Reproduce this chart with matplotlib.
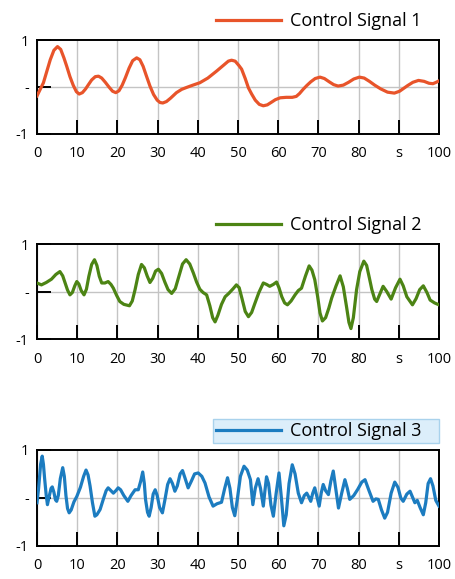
import numpy as np
import matplotlib
matplotlib.use("Agg")
import matplotlib.pyplot as plt

plt.rcParams['font.family'] = ['Open Sans', 'DejaVu Sans']

# values (time in s, signal amplitude)
t1 = [0, 0.8, 1.6, 2.5, 3.3, 4.2, 5.1, 5.9, 6.7, 7.4, 8.2, 9.0, 9.8, 10.5, 11.3,
      12.1, 12.8, 13.6, 14.5, 15.3, 16.1, 17.0, 17.9, 18.8, 19.6, 20.4, 21.2,
      22.0, 22.9, 23.8, 24.8, 25.6, 26.4, 27.2, 28.1, 29.0, 29.9, 30.6, 31.3,
      32.2, 33.2, 34.7, 36.0, 37.2, 38.8, 40.5, 42.5, 44.7, 46.5, 47.6, 48.4,
      49.3, 50.2, 50.9, 51.8, 52.6, 53.4, 54.3, 55.3, 56.3, 57.3, 58.4, 59.3,
      60.5, 62.0, 63.5, 64.5, 65.3, 66.2, 67.1, 68.1, 69.2, 70.4, 71.5, 72.7,
      73.8, 74.9, 76.2, 77.5, 78.8, 80.2, 81.4, 82.7, 84.0, 85.5, 87.2, 88.9,
      90.2, 91.2, 92.2, 93.5, 94.9, 96.3, 97.5, 98.5, 99.3, 100]
s1 = [-0.19, -0.05, 0.09, 0.35, 0.58, 0.78, 0.86, 0.80, 0.62, 0.44, 0.22, 0.04,
      -0.10, -0.15, -0.12, -0.04, 0.05, 0.15, 0.22, 0.23, 0.19, 0.10, 0.0, -0.09,
      -0.12, -0.08, 0.04, 0.20, 0.40, 0.56, 0.62, 0.58, 0.44, 0.24, 0.02, -0.16,
      -0.28, -0.33, -0.34, -0.31, -0.24, -0.12, -0.05, -0.01, 0.04, 0.09, 0.19,
      0.34, 0.47, 0.55, 0.57, 0.55, 0.46, 0.38, 0.18, -0.02, -0.15, -0.28, -0.37,
      -0.40, -0.38, -0.32, -0.27, -0.23, -0.22, -0.22, -0.20, -0.14, -0.05, 0.03,
      0.11, 0.18, 0.21, 0.18, 0.11, 0.05, 0.02, 0.04, 0.10, 0.17, 0.21, 0.19,
      0.12, 0.04, -0.04, -0.11, -0.13, -0.09, -0.03, 0.03, 0.10, 0.14, 0.12, 0.08,
      0.07, 0.10, 0.13]

t2 = [0, 1.1, 2.3, 3.6, 4.7, 5.7, 6.4, 7.0, 7.6, 8.2, 8.8, 9.4, 9.9, 10.4, 11.0,
      11.7, 12.3, 12.9, 13.6, 14.3, 14.9, 15.5, 16.1, 16.9, 17.7, 18.4, 19.0,
      19.8, 20.6, 21.6, 23.0, 23.7, 24.4, 25.2, 26.0, 26.7, 27.4, 28.1, 28.8,
      29.5, 30.2, 31.0, 31.8, 32.6, 33.5, 34.4, 35.3, 36.2, 37.1, 38.0, 38.9,
      39.7, 40.5, 41.3, 42.2, 43.0, 43.7, 44.3, 45.0, 45.9, 46.8, 47.7, 48.8,
      49.6, 50.3, 51.0, 51.8, 52.6, 53.4, 54.2, 55.2, 56.3, 57.1, 57.9, 58.8,
      59.6, 60.2, 60.9, 61.6, 62.3, 63.2, 64.2, 65.0, 65.8, 66.8, 67.7, 68.4,
      69.1, 69.8, 70.4, 71.0, 71.8, 72.6, 73.3, 74.4, 75.4, 76.2, 77.0, 77.6,
      78.1, 78.7, 79.5, 80.3, 81.3, 82.0, 82.7, 83.3, 84.0, 84.5, 85.3, 86.1,
      87.0, 88.1, 89.2, 90.3, 91.1, 92.0, 93.4, 94.3, 95.2, 96.1, 97.0, 97.8,
      98.9, 100]
s2 = [0.18, 0.14, 0.19, 0.26, 0.36, 0.42, 0.33, 0.18, 0.03, -0.07, -0.02, 0.12,
      0.21, 0.16, 0.02, -0.07, 0.05, 0.32, 0.57, 0.67, 0.55, 0.32, 0.18, 0.18,
      0.21, 0.15, 0.07, -0.08, -0.21, -0.27, -0.30, -0.20, 0.04, 0.36, 0.57, 0.50,
      0.33, 0.19, 0.28, 0.43, 0.47, 0.38, 0.20, 0.04, -0.04, 0.06, 0.32, 0.58,
      0.67, 0.58, 0.39, 0.20, 0.05, -0.02, -0.07, -0.30, -0.55, -0.64, -0.50,
      -0.27, -0.11, -0.04, 0.06, 0.14, 0.08, -0.15, -0.42, -0.53, -0.44, -0.25,
      -0.02, 0.18, 0.15, 0.11, 0.15, 0.20, 0.08, -0.11, -0.24, -0.28, -0.20,
      -0.07, 0.02, 0.07, 0.33, 0.54, 0.45, 0.25, -0.10, -0.45, -0.62, -0.55,
      -0.35, -0.14, 0.12, 0.33, 0.10, -0.32, -0.65, -0.78, -0.55, 0.04, 0.42,
      0.64, 0.55, 0.28, 0.04, -0.16, -0.21, -0.05, 0.11, 0.0, -0.16, 0.08, 0.26,
      0.12, -0.11, -0.28, -0.15, 0.04, 0.12, -0.02, -0.18, -0.24, -0.28]

t3 = [0, 0.4, 0.9, 1.3, 1.6, 1.9, 2.3, 2.6, 3.0, 3.5, 3.8, 4.2, 4.6, 4.9, 5.3,
      5.8, 6.4, 6.8, 7.2, 7.6, 8.0, 8.5, 9.2, 9.9, 10.8, 11.6, 12.2, 12.7, 13.2,
      13.8, 14.4, 14.9, 15.7, 16.6, 17.2, 17.7, 18.3, 19.0, 19.6, 20.2, 20.8,
      21.6, 22.6, 23.4, 24.4, 25.2, 25.8, 26.3, 26.7, 27.0, 27.5, 27.9, 28.4,
      28.9, 29.4, 29.9, 30.5, 31.2, 31.8, 32.5, 33.1, 33.7, 34.3, 34.9, 35.6,
      36.2, 36.8, 37.6, 38.4, 39.2, 40.1, 41.0, 41.8, 42.8, 43.8, 44.8, 45.9,
      46.7, 47.4, 48.0, 48.6, 49.2, 49.8, 50.6, 51.5, 52.3, 53.1, 53.7, 54.3,
      55.0, 55.6, 56.3, 56.7, 57.1, 57.6, 58.2, 58.8, 59.5, 60.2, 60.8, 61.4,
      62.0, 62.7, 63.5, 64.2, 65.0, 65.8, 66.5, 67.1, 67.6, 68.1, 68.6, 69.1,
      69.7, 70.2, 70.7, 71.2, 71.8, 72.5, 73.1, 73.7, 74.3, 75.0, 75.8, 76.6,
      77.2, 77.8, 78.8, 79.8, 80.8, 81.6, 82.6, 83.6, 84.3, 84.9, 85.7, 86.5,
      87.2, 88.1, 89.0, 89.8, 90.5, 91.1, 92.0, 92.8, 93.4, 94.0, 94.6, 95.3,
      96.1, 96.7, 97.3, 97.9, 98.5, 99.2, 100]
s3 = [-0.10, 0.20, 0.70, 0.87, 0.70, 0.40, 0.05, -0.14, 0.02, 0.20, 0.23, 0.12,
      -0.04, -0.07, 0.05, 0.40, 0.63, 0.45, 0.05, -0.22, -0.31, -0.25, -0.08,
      0.03, 0.22, 0.45, 0.58, 0.48, 0.25, -0.10, -0.38, -0.35, -0.24, 0.0, 0.15,
      0.21, 0.16, 0.10, 0.15, 0.21, 0.17, 0.05, -0.07, 0.05, 0.17, 0.17, 0.35,
      0.54, 0.30, -0.03, -0.30, -0.38, -0.20, 0.08, 0.17, 0.05, -0.20, -0.31,
      -0.05, 0.28, 0.40, 0.30, 0.14, 0.25, 0.50, 0.57, 0.42, 0.21, 0.35, 0.50,
      0.52, 0.45, 0.31, 0.02, -0.17, -0.12, -0.09, 0.20, 0.42, 0.20, -0.20, -0.37,
      -0.05, 0.45, 0.66, 0.58, 0.38, -0.14, 0.20, 0.40, 0.20, -0.17, 0.15, 0.44,
      0.30, -0.15, -0.38, 0.10, 0.52, 0.00, -0.58, -0.35, 0.30, 0.69, 0.50, 0.10,
      -0.10, 0.05, 0.10, 0.02, -0.07, 0.10, 0.21, 0.00, -0.17, 0.10, 0.28, 0.15,
      0.07, 0.35, 0.56, 0.20, -0.21, 0.10, 0.38, 0.20, -0.03, 0.05, 0.18, 0.33,
      0.38, 0.15, -0.07, -0.02, -0.03, -0.25, -0.42, -0.30, 0.10, 0.33, 0.22,
      0.00, -0.07, 0.08, 0.14, 0.02, -0.10, -0.05, -0.20, -0.35, -0.10, 0.30,
      0.40, 0.25, -0.05, -0.17]

names = ['Control Signal 1', 'Control Signal 2', 'Control Signal 3']
colors = ['#E8542A', '#4C8414', '#1C7CC0']
xticks = [0, 10, 20, 30, 40, 50, 60, 70, 80, 90, 100]
xlabels = ['0', '10', '20', '30', '40', '50', '60', '70', '80', 's', '100']

fig = plt.figure(figsize=(4.55, 5.79), dpi=100)
# left, bottom, width, height
boxes = [[0.0813, 0.7686, 0.8835, 0.1623],
         [0.0813, 0.4145, 0.8835, 0.1640],
         [0.0813, 0.0570, 0.8835, 0.1660]]

data = [(t1, s1), (t2, s2), (t3, s3)]
for i in range(3):
    ax = fig.add_axes(boxes[i])
    t, s = data[i]
    ax.plot(t, s, color=colors[i], lw=2.3, label=names[i] + '   ', zorder=3,
            solid_joinstyle='round')
    ax.set_xlim(0, 100)
    ax.set_ylim(-1, 1)
    ax.set_xticks(xticks)
    ax.set_xticklabels(xlabels)
    ax.set_yticks([-1, 0, 1])
    ax.set_yticklabels(['-1', '-', '1'])
    ax.tick_params(direction='in', length=10, width=1.4, labelsize=10.5,
                   colors='black', top=False, right=False)
    ax.tick_params(axis='x', pad=9)
    ax.tick_params(axis='y', pad=6)
    ax.grid(True, color='#C4C4C4', lw=1)
    for sp in ax.spines.values():
        sp.set_linewidth(1.4)
        sp.set_color('black')
    # only keep the zero line of the horizontal grid
    for gl, v in zip(ax.get_ygridlines(), [-1, 0, 1]):
        if v != 0:
            gl.set_visible(False)
    leg = ax.legend(loc='lower right', bbox_to_anchor=(1.0, 1.07),
                    borderaxespad=0, frameon=(i == 2), fancybox=False,
                    handlelength=3.6, fontsize=13, borderpad=0.18,
                    handletextpad=0.5)
    if i == 2:
        leg.get_frame().set_facecolor('#DCEEFA')
        leg.get_frame().set_edgecolor('#A9D2EC')
        leg.get_frame().set_linewidth(1)
        leg.get_frame().set_alpha(1)

fig.savefig('out.png', dpi=100)
